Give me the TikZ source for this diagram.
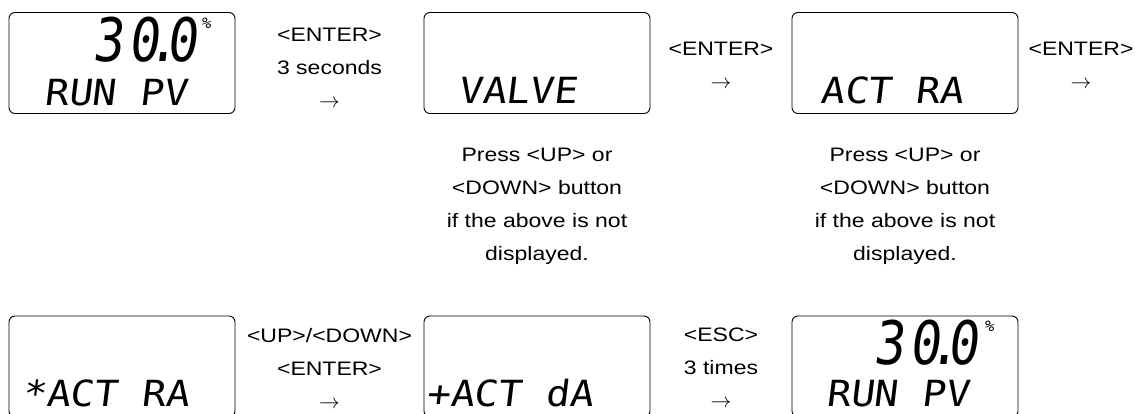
\documentclass[tikz,border=0pt]{standalone}
\usepackage{fontspec}
\setmainfont{Liberation Sans}[FakeStretch=1.18]
\newfontfamily\lcdfont{DejaVu Sans Mono}[FakeSlant=0.12,FakeStretch=1.1]
\newfontfamily\lcdbigfont{DejaVu Sans Mono}[FakeSlant=0.12,FakeStretch=0.85]
\tikzset{
  lcdbox/.style={draw,rounded corners=6pt,minimum width=226pt,minimum height=101pt,line width=0.9pt},
  lcdtext/.style={anchor=base west,inner sep=0pt,font=\lcdfont\fontsize{36}{36}\selectfont},
  lcdbig/.style={anchor=base west,inner sep=0pt,font=\lcdbigfont\fontsize{60}{60}\selectfont},
  lcdunit/.style={anchor=base west,inner sep=0pt,font=\lcdfont\fontsize{15}{15}\selectfont},
  steptext/.style={align=center,font=\fontsize{19.5}{33}\selectfont}
}
\newcommand\pvvalue{3\kern6pt0\kern-12pt.\kern-12pt0}
\begin{document}
\begin{tikzpicture}[x=1pt,y=-1pt]
\useasboundingbox (0,0) rectangle (1135,414);
% displays, top row
\node[lcdbox] (d1) at (122,63) {};
\node[lcdbox] (d2) at (537,63) {};
\node[lcdbox] (d3) at (905,63) {};
% displays, bottom row
\node[lcdbox] (d4) at (122,366.5) {};
\node[lcdbox] (d5) at (537,366.5) {};
\node[lcdbox] (d6) at (905,366.5) {};
% display contents
\node[lcdbig] (pv1) at (92,62) {\pvvalue};
\node[lcdunit] (pc1) at (201,29) {\%};
\node[lcdtext] (run1) at (44,106) {RUN PV};
\node[lcdtext] (valve) at (458,104) {VALVE};
\node[lcdtext] (act) at (820,104) {ACT RA};
\node[lcdtext] (actra) at (22,406) {*ACT RA};
\node[lcdtext] (actda) at (426,406) {+ACT dA};
\node[lcdbig] (pv2) at (873,364) {\pvvalue};
\node[lcdunit] (pc2) at (984,331) {\%};
\node[lcdtext] (run2) at (826,406) {RUN PV};
% key steps
\node[steptext] (k1) at (329.5,68) {<ENTER>\\3 seconds\\$\rightarrow$};
\node[steptext] (k2) at (721,65) {<ENTER>\\$\rightarrow$};
\node[steptext] (k3) at (1081,65) {<ENTER>\\$\rightarrow$};
\node[steptext] (k4) at (329.5,368) {<UP>/<DOWN>\\<ENTER>\\$\rightarrow$};
\node[steptext] (k5) at (721,368) {<ESC>\\3 times\\$\rightarrow$};
% hints
\node[steptext,anchor=north] (h2) at (537,145) {Press <UP> or\\<DOWN> button\\if the above is not\\displayed.};
\node[steptext,anchor=north] (h3) at (905,145) {Press <UP> or\\<DOWN> button\\if the above is not\\displayed.};
\end{tikzpicture}
\end{document}
